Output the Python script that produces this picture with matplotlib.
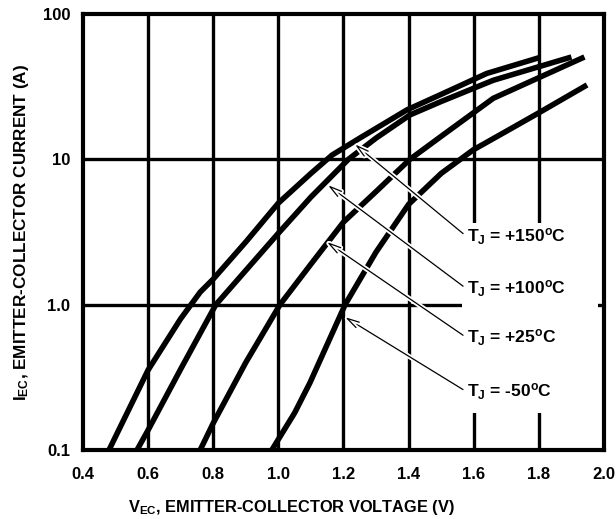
import numpy as np
import matplotlib
matplotlib.use("Agg")
import matplotlib.pyplot as plt
from matplotlib.patches import Rectangle
import matplotlib.patheffects as pe

plt.rcParams['font.family'] = ['Liberation Sans', 'DejaVu Sans']
plt.rcParams['font.weight'] = 'bold'
plt.rcParams['mathtext.fontset'] = 'custom'
plt.rcParams['mathtext.rm'] = 'Liberation Sans:bold'
plt.rcParams['mathtext.bf'] = 'Liberation Sans:bold'
plt.rcParams['mathtext.default'] = 'rm'

# curves: V_EC (V) vs I_EC (A)
v_150 = [0.48, 0.60, 0.70, 0.76, 0.80, 0.90, 1.00, 1.10, 1.165, 1.25, 1.395, 1.50, 1.64, 1.80]
i_150 = [0.10, 0.355, 0.80, 1.22, 1.50, 2.70, 5.0, 8.0, 10.7, 14.0, 21.9, 28.0, 39.0, 50.0]

v_100 = [0.566, 0.60, 0.70, 0.808, 0.90, 1.00, 1.10, 1.215, 1.30, 1.404, 1.50, 1.66, 1.90]
i_100 = [0.10, 0.137, 0.36, 1.0, 1.72, 3.1, 5.5, 10.0, 14.0, 20.2, 25.0, 35.0, 50.6]

v_25 = [0.76, 0.80, 0.90, 1.005, 1.10, 1.20, 1.30, 1.404, 1.50, 1.66, 1.94]
i_25 = [0.10, 0.153, 0.40, 1.0, 1.9, 3.7, 6.0, 10.0, 14.4, 26.3, 50.6]

v_m50 = [0.98, 1.05, 1.097, 1.205, 1.30, 1.40, 1.50, 1.598, 1.70, 1.80, 1.948]
i_m50 = [0.10, 0.18, 0.29, 1.0, 2.3, 4.9, 8.0, 11.6, 15.6, 20.9, 32.5]

labels = [r'T$_{J}$ = +150$^{o}$C', r'T$_{J}$ = +100$^{o}$C',
          r'T$_{J}$ = +25$^{o}$C', r'T$_{J}$ = -50$^{o}$C']
# where each label's arrow points (V, A)
arrow_v = [1.235, 1.152, 1.149, 1.205]
arrow_i = [12.7, 6.65, 2.7, 0.82]

xticks = [0.4, 0.6, 0.8, 1.0, 1.2, 1.4, 1.6, 1.8, 2.0]
xtick_labels = ['0.4', '0.6', '0.8', '1.0', '1.2', '1.4', '1.6', '1.8', '2.0']
yticks = [0.1, 1, 10, 100]
ytick_labels = ['0.1', '1.0', '10', '100']

fig = plt.figure(figsize=(6.16, 5.19), dpi=100)
ax = fig.add_axes([0.1347, 0.133, 0.8458, 0.840])

ax.set_yscale('log')
ax.set_xlim(0.4, 2.0)
ax.set_ylim(0.1, 100)

# grid
for x in xticks[1:-1]:
    ax.axvline(x, color='black', lw=2.4, zorder=1)
for y in yticks[1:-1]:
    ax.axhline(y, color='black', lw=2.4, zorder=1)

# white box behind the labels
ax.add_patch(Rectangle((0.727, 0.085), 0.262, 0.435, transform=ax.transAxes,
                       facecolor='white', edgecolor='none', zorder=2))

for v, i in [(v_150, i_150), (v_100, i_100), (v_25, i_25), (v_m50, i_m50)]:
    ax.plot(v, i, color='black', lw=4.0, solid_capstyle='butt',
            solid_joinstyle='round', zorder=3)

label_y = [0.489, 0.369, 0.257, 0.133]
for lab, av, ai, ly in zip(labels, arrow_v, arrow_i, label_y):
    ax.annotate(lab, xy=(av, ai), xycoords='data',
                xytext=(0.737, ly), textcoords='axes fraction',
                ha='left', va='center', fontsize=12.5, fontweight='bold', zorder=5,
                arrowprops=dict(arrowstyle='->,head_length=0.7,head_width=0.18',
                                color='black', lw=0.9, relpos=(0, 0.5),
                                shrinkA=1, shrinkB=0,
                                path_effects=[pe.withStroke(linewidth=3.5, foreground='white')]))

ax.set_xticks(xticks)
ax.set_xticklabels(xtick_labels)
ax.set_yticks(yticks)
ax.set_yticklabels(ytick_labels)
ax.minorticks_off()
ax.tick_params(axis='both', length=0, labelsize=12)
ax.tick_params(axis='x', pad=12)
ax.tick_params(axis='y', pad=9)
for lbl in ax.get_xticklabels() + ax.get_yticklabels():
    lbl.set_fontweight('bold')

for s in ax.spines.values():
    s.set_linewidth(3.0)
    s.set_zorder(6)

ax.text(0.40, -0.142, r'V$_{EC}$, EMITTER-COLLECTOR VOLTAGE (V)', transform=ax.transAxes,
        ha='center', va='baseline', fontsize=11.8, fontweight='bold')
ax.text(-0.109, 0.50, r'I$_{EC}$, EMITTER-COLLECTOR CURRENT (A)', transform=ax.transAxes,
        ha='center', va='baseline', rotation=90, rotation_mode='anchor',
        fontsize=12.3, fontweight='bold')

fig.savefig('out.png', dpi=100)
